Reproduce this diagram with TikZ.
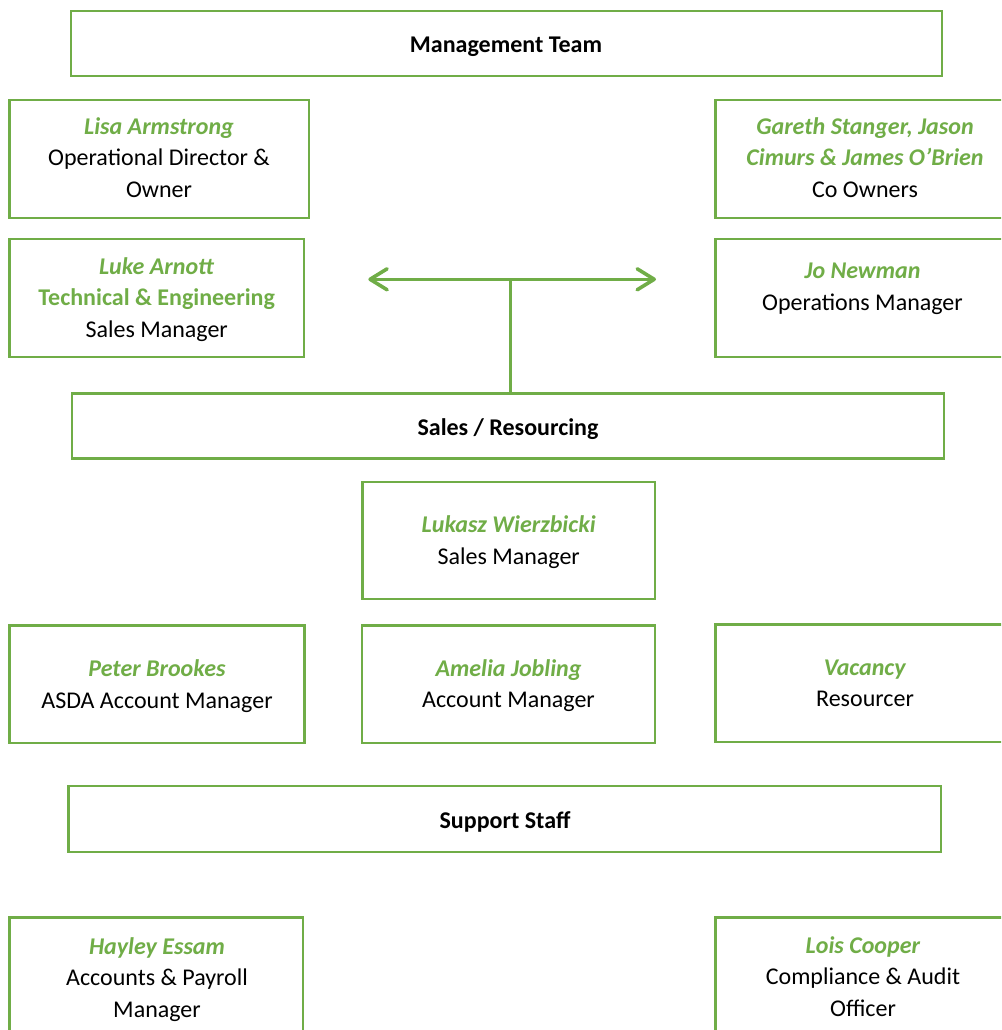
\documentclass[tikz,border=0pt]{standalone}
\usepackage{fontspec}
\setmainfont{Carlito}
\usetikzlibrary{arrows.meta,fit}
\definecolor{grn}{HTML}{70AD47}
\newcommand\nm[1]{\textcolor{grn}{\textbf{\textit{#1}}}}
\newcommand\gb[1]{\textcolor{grn}{\textbf{#1}}}
\newcommand\st{\rule{0pt}{20pt}}
\tikzset{
  box/.style={draw=grn, line width=2.4pt, inner sep=0pt, rectangle},
  txt/.style={inner sep=0pt, align=center, font={\fontsize{24}{31.5}\selectfont}},
  ttl/.style={txt, anchor=base, font={\fontsize{24}{31.5}\selectfont\bfseries}},
  lines/.style={txt, anchor=north},
  conn/.style={draw=grn, line width=3.6pt},
  vline/.style={draw=grn, line width=2.6pt},
  chev/.tip={Straight Barb[length=17pt,width=21pt,round]}
}
\begin{document}
\begin{tikzpicture}[x=1pt,y=-1pt]
\useasboundingbox (0,0) rectangle (1001,1030);
\clip (0,0) rectangle (1001,1030);

% boxes
\node[box, fit={(70.7,11) (942,76)}] (mgmt) {};
\node[box, fit={(9.5,99.8) (308.7,217.8)}] (lisa) {};
\node[box, fit={(715.5,99.8) (1014,217.8)}] (gareth) {};
\node[box, fit={(9.5,238.8) (303.8,357)}] (luke) {};
\node[box, fit={(715.5,238.8) (1010,357)}] (jo) {};
\node[box, fit={(72,393.6) (944,458.4)}] (sales) {};
\node[box, fit={(362.5,482) (655,599)}] (lukasz) {};
\node[box, fit={(9.5,625.5) (304.3,742.8)}] (peter) {};
\node[box, fit={(362,625.5) (655,742.8)}] (amelia) {};
\node[box, fit={(715.5,624.5) (1014,742)}] (vacancy) {};
\node[box, fit={(68.5,786) (940.7,852)}] (support) {};
\node[box, fit={(9.5,917.5) (303,1040)}] (hayley) {};
\node[box, fit={(715.5,917.5) (1010,1040)}] (lois) {};

% titles
\node[ttl] (mgmt-t) at (506,53) {Management Team};
\node[ttl] (sales-t) at (508,435) {Sales / Resourcing};
\node[ttl] (support-t) at (505,828) {Support Staff};

% people
\node[lines] (lisa-t) at (159,114) {\st\nm{Lisa Armstrong}\\Operational Director \&\\Owner};
\node[lines] (gareth-t) at (865,114) {\st\nm{Gareth Stanger, Jason}\\\nm{Cimurs \& James O’Brien}\\Co Owners};
\node[lines] (luke-t) at (156.7,254) {\st\nm{Luke Arnott}\\\gb{Technical \& Engineering}\\Sales Manager};
\node[lines] (jo-t) at (862.5,258.5) {\st\nm{Jo Newman}\\Operations Manager};
\node[lines] (lukasz-t) at (508.7,512.5) {\st\nm{Lukasz Wierzbicki}\\Sales Manager};
\node[lines] (peter-t) at (157,656.5) {\st\nm{Peter Brookes}\\ASDA Account Manager};
\node[lines] (amelia-t) at (508.5,656) {\st\nm{Amelia Jobling}\\Account Manager};
\node[lines] (vacancy-t) at (865,655) {\st\nm{Vacancy}\\Resourcer};
\node[lines] (hayley-t) at (157,934) {\st\nm{Hayley Essam}\\Accounts \& Payroll\\Manager};
\node[lines] (lois-t) at (863,933) {\st\nm{Lois Cooper}\\Compliance \& Audit\\Officer};

% connectors
\coordinate (aL) at (368.3,279.3);
\coordinate (aR) at (656,279.3);
\coordinate (aM) at (510.7,279.3);
\draw[conn, chev-chev] (aL) -- (aR);
\draw[vline] (aM) -- (aM |- sales.north);
\end{tikzpicture}
\end{document}
